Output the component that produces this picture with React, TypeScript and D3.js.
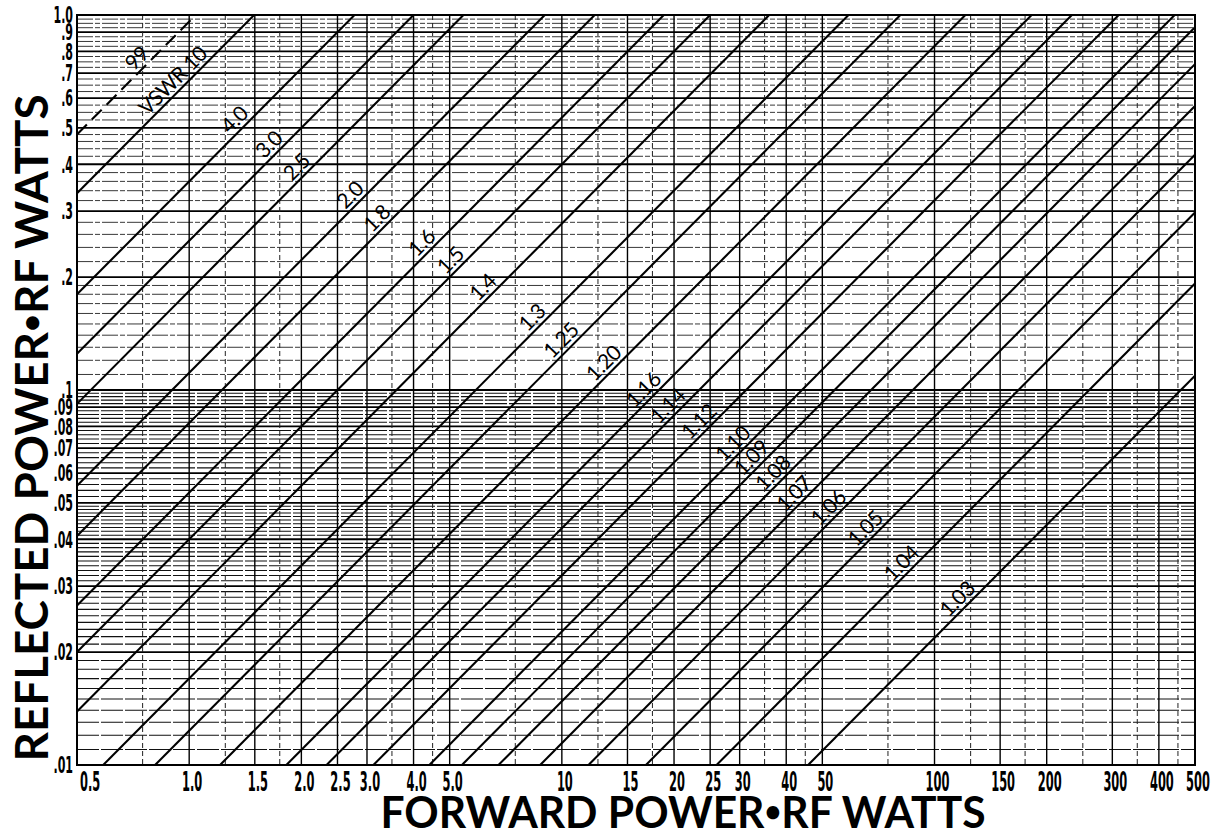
import React from 'react';
import * as d3 from 'd3';

// VSWR lines drawn across the chart, and where (forward watts) each label sits
const vswr = [99, 10, 4, 3, 2.5, 2, 1.8, 1.6, 1.5, 1.4, 1.3, 1.25, 1.2, 1.16, 1.14, 1.12, 1.1, 1.09, 1.08, 1.07, 1.06, 1.05, 1.04, 1.03];
const vswrText = ['99', 'VSWR 10', '4.0', '3.0', '2.5', '2.0', '1.8', '1.6', '1.5', '1.4', '1.3', '1.25', '1.20', '1.16', '1.14', '1.12', '1.10', '1.09', '1.08', '1.07', '1.06', '1.05', '1.04', '1.03'];
const labelForward = [0.76, 0.95, 1.39, 1.72, 2.04, 2.84, 3.35, 4.42, 5.28, 6.45, 8.74, 10.46, 13.6, 17.4, 20.2, 24.5, 30.2, 33.9, 38.7, 44.1, 54.5, 68.5, 85.6, 121];

const xTicks = [0.5, 1, 1.5, 2, 2.5, 3, 4, 5, 10, 15, 20, 25, 30, 40, 50, 100, 150, 200, 300, 400, 500];
const xTickText = ['0.5', '1.0', '1.5', '2.0', '2.5', '3.0', '4.0', '5.0', '10', '15', '20', '25', '30', '40', '50', '100', '150', '200', '300', '400', '500'];
const xMinor = [0.75, 1.25, 1.75, 3.5, 4.5, 7.5, 12.5, 17.5, 35, 45, 75, 125, 175, 250, 350, 450];

const yTicks = [1, 0.9, 0.8, 0.7, 0.6, 0.5, 0.4, 0.3, 0.2, 0.1, 0.09, 0.08, 0.07, 0.06, 0.05, 0.04, 0.03, 0.02, 0.01];
const yTickText = ['1.0', '.9', '.8', '.7', '.6', '.5', '.4', '.3', '.2', '.1', '.09', '.08', '.07', '.06', '.05', '.04', '.03', '.02', '.01'];

const width = 1215;
const height = 830;
const left = 77;
const right = 1195;
const top = 15;
const bottom = 765;

const x = d3.scaleLog().domain([0.5, 500]).range([left, right]);
const y = d3.scaleLog().domain([1, 0.01]).range([top, bottom]);

// log-paper rulings between the printed values
const mantissa = (parts: [number, number, number][]) =>
  parts.flatMap(([a, b, s]) => d3.range(a, b - 1e-9, s)).filter(m => Math.abs(m - Math.round(m)) > 1e-6);
const upperMinor = mantissa([[1.1, 2, 0.1], [2.2, 5, 0.2], [5.25, 10, 0.25]]).map(m => m / 10);
const lowerMinor = mantissa([[1.1, 2, 0.1], [2.1, 5, 0.1], [5.2, 10, 0.2]]).map(m => m / 100);

const ratio = (s: number) => ((s - 1) / (s + 1)) ** 2;

function vswrPath(s: number) {
  const r = ratio(s);
  const pts: [number, number][] = x.domain().map(v => [x(v), y(v * r)]);
  return d3.line()(pts) || '';
}

const tickFont = "'DejaVu Sans', sans-serif";
const titleFont = "Lato, 'DejaVu Sans', sans-serif";

export default function App() {
  return (
    <svg width={width} height={height} style={{ position: 'absolute', left: 0, top: 0, background: '#fff' }}>
      <defs>
        <clipPath id="plot">
          <rect x={left} y={top} width={right - left} height={bottom - top} />
        </clipPath>
      </defs>

      <g className="grid-h">
        {upperMinor.map(v => (
          <line key={'u' + v} x1={left} x2={right} y1={y(v)} y2={y(v)} stroke="#222" strokeWidth={0.9} strokeDasharray="16 2 5 2" />
        ))}
        {lowerMinor.map(v => (
          <line key={'l' + v} x1={left} x2={right} y1={y(v)} y2={y(v)} stroke="#111" strokeWidth={1.1} strokeDasharray="22 2" />
        ))}
        {yTicks.map(v => (
          <line key={'m' + v} x1={left} x2={right} y1={y(v)} y2={y(v)} stroke="#000" strokeWidth={1.8} />
        ))}
      </g>

      <g className="grid-v">
        {xMinor.map(v => (
          <line key={'vm' + v} x1={x(v)} x2={x(v)} y1={top} y2={bottom} stroke="#222" strokeWidth={1} strokeDasharray="5 3" />
        ))}
        {xTicks.map(v => (
          <line key={'vM' + v} x1={x(v)} x2={x(v)} y1={top} y2={bottom} stroke="#000" strokeWidth={1.4} />
        ))}
      </g>

      <g className="vswr-lines" clipPath="url(#plot)">
        {vswr.map((s, i) => (
          <path key={s} d={vswrPath(s)} fill="none" stroke="#000" strokeWidth={2.1}
            strokeDasharray={i === 0 ? '14 7' : undefined} />
        ))}
      </g>

      <g className="vswr-labels" fontFamily={titleFont} fontSize={21} fill="#000" letterSpacing={-0.5}>
        {vswr.map((s, i) => {
          const r = ratio(s);
          const f = labelForward[i];
          const px = x(f);
          const py = y(f * r);
          const a1 = [x(f / 1.2), y((f / 1.2) * r)];
          const a2 = [x(f * 1.2), y(f * 1.2 * r)];
          const ang = (Math.atan2(a2[1] - a1[1], a2[0] - a1[0]) * 180) / Math.PI;
          return (
            <text key={s} transform={`translate(${px},${py}) rotate(${ang})`} textAnchor="middle" y={-4}>
              {vswrText[i]}
            </text>
          );
        })}
      </g>

      <rect x={left} y={top} width={right - left} height={bottom - top} fill="none" stroke="#000" strokeWidth={2} />

      <g className="y-ticks" fontFamily={tickFont} fontWeight="bold" fontSize={23} fill="#000">
        {yTicks.map((v, i) => (
          <text key={v} transform={`translate(73,${y(v)}) scale(0.48,1)`} textAnchor="end" dy="0.36em">
            {yTickText[i]}
          </text>
        ))}
      </g>

      <g className="x-ticks" fontFamily={tickFont} fontWeight="bold" fontSize={26} fill="#000">
        {xTicks.map((v, i) => (
          <text key={v} transform={`translate(${x(v) + 3},791) scale(0.44,1)`}
            textAnchor={i === 0 ? 'start' : 'middle'}>
            {xTickText[i]}
          </text>
        ))}
      </g>

      <text x={683} y={828} textAnchor="middle" fontFamily={titleFont} fontWeight="bold" fontSize={44}
        textLength={605} lengthAdjust="spacingAndGlyphs">
        FORWARD POWER<tspan fontSize={30} dy={-6}>•</tspan><tspan dy={6}>RF WATTS</tspan>
      </text>
      <text transform="translate(48,428) rotate(-90)" textAnchor="middle" fontFamily={titleFont} fontWeight="bold"
        fontSize={46} textLength={667} lengthAdjust="spacingAndGlyphs">
        REFLECTED POWER<tspan fontSize={31} dy={-6}>•</tspan><tspan dy={6}>RF WATTS</tspan>
      </text>
    </svg>
  );
}
